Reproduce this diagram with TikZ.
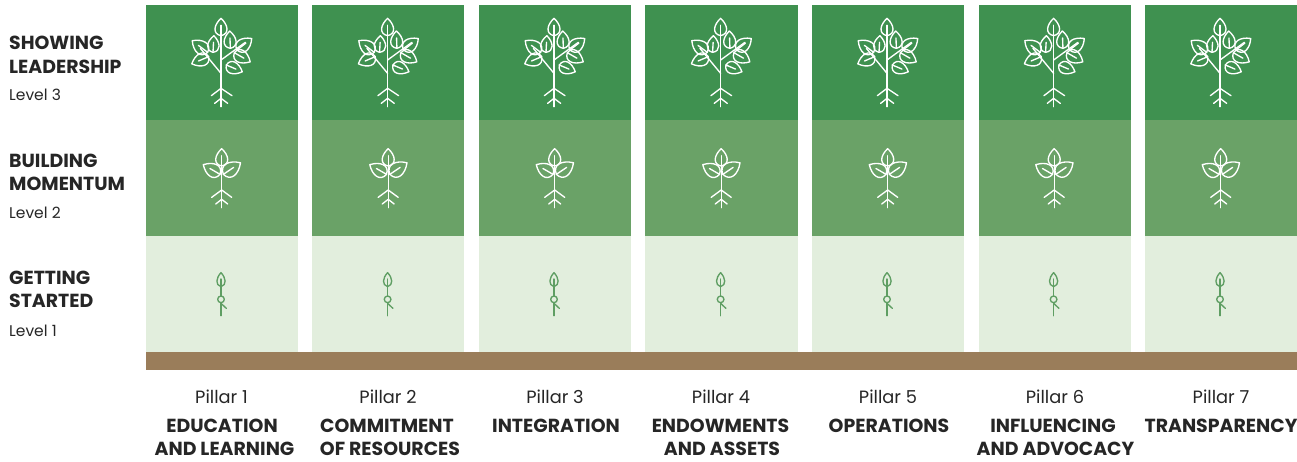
\documentclass[tikz,border=0pt]{standalone}
\usepackage{fontspec}
\setmainfont{Poppins}
\definecolor{gdark}{HTML}{3F9150}
\definecolor{gmid}{HTML}{6AA267}
\definecolor{glight}{HTML}{E2EEDD}
\definecolor{gline}{HTML}{5F9E63}
\definecolor{soil}{HTML}{9A7D5A}
\definecolor{ink}{HTML}{262626}
\tikzset{
  lefthead/.style={anchor=base west,inner sep=0pt,font=\fontsize{18.9}{20}\selectfont\bfseries,text=ink},
  leftsub/.style={anchor=base west,inner sep=0pt,font=\fontsize{15.5}{18}\selectfont,text=ink},
  pillar/.style={anchor=base,inner sep=0pt,font=\fontsize{17.8}{20}\selectfont,text=ink},
  pname/.style={anchor=base,inner sep=0pt,font=\fontsize{18.9}{20}\selectfont\bfseries,text=ink},
  plant/.style={line width=1.35pt,line join=round,line cap=round,fill=none},
}
% base x, base y, angle, length (zoom units, y down)
\newcommand{\leaf}[4]{%
  \begin{scope}[shift={(#1,#2)},rotate=#3,x=#4,y=#4]
    \draw[plant] (0,0) .. controls (0.1,0.5) and (0.62,0.42) .. (1,0) .. controls (0.62,-0.42) and (0.1,-0.5) .. (0,0);
    \draw[plant] (0,0) -- (0.6,0);
  \end{scope}}
\newcommand{\bigtree}[1]{%
  \begin{scope}[shift={(#1,5)},xscale=1/3,yscale=-1/3,white]
    \leaf{0pt}{92pt}{-90}{52pt}
    \leaf{-24pt}{142pt}{-87}{50pt}
    \leaf{28pt}{130pt}{-92}{52pt}
    \leaf{-40pt}{142pt}{-143}{58pt}
    \leaf{-37pt}{155pt}{157}{55pt}
    \leaf{48pt}{135pt}{-38}{56pt}
    \leaf{40pt}{143pt}{30}{55pt}
    \leaf{16pt}{180pt}{23}{52pt}
    \draw[plant] (0pt,92pt) -- (0pt,305pt);
    \draw[plant] (0pt,205pt) -- (-62pt,130pt);
    \draw[plant] (0pt,165pt) -- (73pt,112pt);
    \draw[plant] (-29pt,272pt) -- (0pt,250pt) -- (33pt,272pt);
    \draw[plant] (-19pt,295pt) -- (0pt,280pt) -- (20pt,295pt);
  \end{scope}}
\newcommand{\midtree}[1]{%
  \begin{scope}[shift={(#1,140)},xscale=1/3,yscale=-1/3,white]
    \leaf{0pt}{78pt}{-90}{52pt}
    \leaf{-5pt}{103pt}{-150}{58pt}
    \leaf{5pt}{103pt}{-34}{62pt}
    \draw[plant] (0pt,78pt) -- (0pt,203pt);
    \draw[plant] (-30pt,172pt) -- (0pt,150pt) -- (30pt,172pt);
    \draw[plant] (-18pt,192pt) -- (0pt,178pt) -- (18pt,192pt);
  \end{scope}}
\newcommand{\smalltree}[1]{%
  \begin{scope}[shift={(#1,265)},xscale=1/3,yscale=-1/3,gline]
    \begin{scope}[shift={(0pt,65pt)},rotate=-90,x=42pt,y=42pt]
      \draw[plant] (0,0) .. controls (0.12,0.42) and (0.62,0.36) .. (1,0) .. controls (0.62,-0.36) and (0.12,-0.42) .. (0,0);
    \end{scope}
    \draw[plant] (0pt,42pt) -- (0pt,93pt);
    \draw[plant] (0pt,103pt) circle[radius=10pt];
    \draw[plant] (0pt,113pt) -- (0pt,152pt);
    \draw[plant] (0pt,115pt) -- (16pt,130pt);
  \end{scope}}
\begin{document}
\begin{tikzpicture}[x=1pt,y=-1pt]
\useasboundingbox[fill=white] (0,0) rectangle (1297,461);
\foreach \n/\xa/\xb/\xt/\xm in {1/146/298/221/221.7,2/312/464/387.6/388.2,3/479/631/554/554.7,4/645/798/720.6/721.2,5/812/964/887/887.7,6/979/1131/1053.6/1054.2,7/1145/1297/1220/1220.7}{
  \fill[gdark] (\xa,5) rectangle (\xb,120);
  \fill[gmid] (\xa,120) rectangle (\xb,236);
  \fill[glight] (\xa,236) rectangle (\xb,352);
  \bigtree{\xt}
  \midtree{\xm}
  \smalltree{\xt}
}
\fill[soil] (146,352) rectangle (1297,370);
\node[lefthead] (a1) at (9,49.5) {SHOWING};
\node[lefthead] (a2) at (9,73) {LEADERSHIP};
\node[leftsub] (a3) at (9,100) {Level 3};
\node[lefthead] (b1) at (9,167.5) {BUILDING};
\node[lefthead] (b2) at (9,190.5) {MOMENTUM};
\node[leftsub] (b3) at (9,218) {Level 2};
\node[lefthead] (c1) at (9,284.5) {GETTING};
\node[lefthead] (c2) at (9,307.5) {STARTED};
\node[leftsub] (c3) at (9,336) {Level 1};
\node[pillar] (p1) at (221.5,403) {Pillar 1};
\node[pillar] (p2) at (388,403) {Pillar 2};
\node[pillar] (p3) at (555,403) {Pillar 3};
\node[pillar] (p4) at (721,403) {Pillar 4};
\node[pillar] (p5) at (888,403) {Pillar 5};
\node[pillar] (p6) at (1055,403) {Pillar 6};
\node[pillar] (p7) at (1221,403) {Pillar 7};
\node[pname] (n1a) at (222,432.5) {EDUCATION};
\node[pname] (n1b) at (224.5,455.5) {AND LEARNING};
\node[pname] (n2a) at (387,432.5) {COMMITMENT};
\node[pname] (n2b) at (390,455.5) {OF RESOURCES};
\node[pname] (n3) at (556,432.5) {INTEGRATION};
\node[pname] (n4a) at (720.5,432.5) {ENDOWMENTS};
\node[pname] (n4b) at (722,455.5) {AND ASSETS};
\node[pname] (n5) at (889,432.5) {OPERATIONS};
\node[pname] (n6a) at (1053,432.5) {INFLUENCING};
\node[pname] (n6b) at (1055.5,455.5) {AND ADVOCACY};
\node[pname] (n7) at (1221,432.5) {TRANSPARENCY};
\end{tikzpicture}
\end{document}
